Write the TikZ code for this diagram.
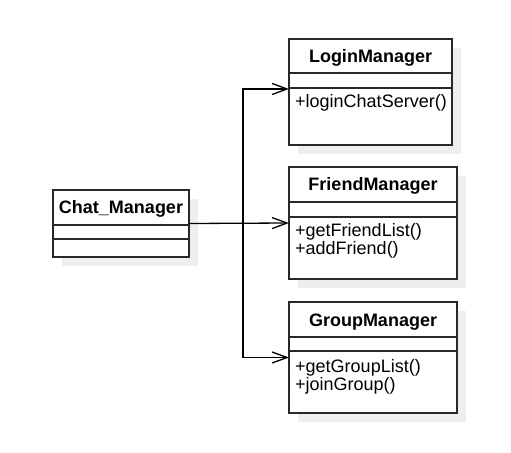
\documentclass[tikz,border=0pt]{standalone}
\usepackage{fontspec}
\setmainfont{Liberation Sans}
\usetikzlibrary{arrows.meta,calc}
\definecolor{shadowgray}{RGB}{238,238,238}
\definecolor{boxline}{RGB}{40,40,40}
\begin{document}
\begin{tikzpicture}[x=1bp,y=-1bp,
  classbox/.style={draw=boxline, line width=1.3bp, fill=white, inner sep=0pt, outer sep=0pt, anchor=north west},
  shadowbox/.style={fill=shadowgray, draw=none, inner sep=0pt, outer sep=0pt, anchor=north west},
  divider/.style={draw=boxline, line width=1.3bp},
  title/.style={font=\fontsize{18bp}{18bp}\selectfont\bfseries, inner sep=0pt, anchor=base},
  member/.style={font=\fontsize{18bp}{19bp}\selectfont, inner sep=0pt, anchor=base west},
  conn/.style={line width=1.3bp, draw=black},
  arr/.style={-{Straight Barb[length=15bp,width=11bp,line width=1.3bp]}}]
\useasboundingbox (0,0) rectangle (511,453);

% shadows
\node[shadowbox, minimum width=136bp, minimum height=67bp] (chatS) at (62,199) {};
\node[shadowbox, minimum width=163bp, minimum height=106bp] (loginS) at (298,48) {};
\node[shadowbox, minimum width=168bp, minimum height=112bp] (friendS) at (298,176) {};
\node[shadowbox, minimum width=168bp, minimum height=111bp] (groupS) at (298,311) {};

% Chat_Manager
\node[classbox, minimum width=136bp, minimum height=67bp] (chat) at (53,190) {};
\draw[divider] ($(chat.north west)+(0,35)$) -- ($(chat.north east)+(0,35)$);
\draw[divider] ($(chat.north west)+(0,49)$) -- ($(chat.north east)+(0,49)$);
\node[title] (chatT) at ($(chat.north)+(0,24)$) {Chat\_Manager};

% LoginManager
\node[classbox, minimum width=163bp, minimum height=106bp] (login) at (289,39) {};
\draw[divider] ($(login.north west)+(0,34)$) -- ($(login.north east)+(0,34)$);
\draw[divider] ($(login.north west)+(0,49)$) -- ($(login.north east)+(0,49)$);
\node[title] (loginT) at ($(login.north)+(0,23.5)$) {LoginManager};
\node[member] (loginM1) at ($(login.north west)+(6,69)$) {+loginChatServer()};

% FriendManager
\node[classbox, minimum width=168bp, minimum height=112bp] (friend) at (289,167) {};
\draw[divider] ($(friend.north west)+(0,35)$) -- ($(friend.north east)+(0,35)$);
\draw[divider] ($(friend.north west)+(0,50)$) -- ($(friend.north east)+(0,50)$);
\node[title] (friendT) at ($(friend.north)+(0,24)$) {FriendManager};
\node[member] (friendM1) at ($(friend.north west)+(6,70)$) {+getFriendList()};
\node[member] (friendM2) at ($(friend.north west)+(6,88)$) {+addFriend()};

% GroupManager
\node[classbox, minimum width=168bp, minimum height=111bp] (group) at (289,302) {};
\draw[divider] ($(group.north west)+(0,35)$) -- ($(group.north east)+(0,35)$);
\draw[divider] ($(group.north west)+(0,49)$) -- ($(group.north east)+(0,49)$);
\node[title] (groupT) at ($(group.north)+(0,24)$) {GroupManager};
\node[member] (groupM1) at ($(group.north west)+(6,70)$) {+getGroupList()};
\node[member] (groupM2) at ($(group.north west)+(6,88)$) {+joinGroup()};

% connectors
\coordinate (junc) at (243,223);
\coordinate (loginIn) at (login.west |- 0,89);
\draw[conn, arr] (chat.east) -- (friend.west);
\draw[conn, arr] (junc) |- (loginIn);
\draw[conn, arr] (junc) |- (group.west);
\end{tikzpicture}
\end{document}
